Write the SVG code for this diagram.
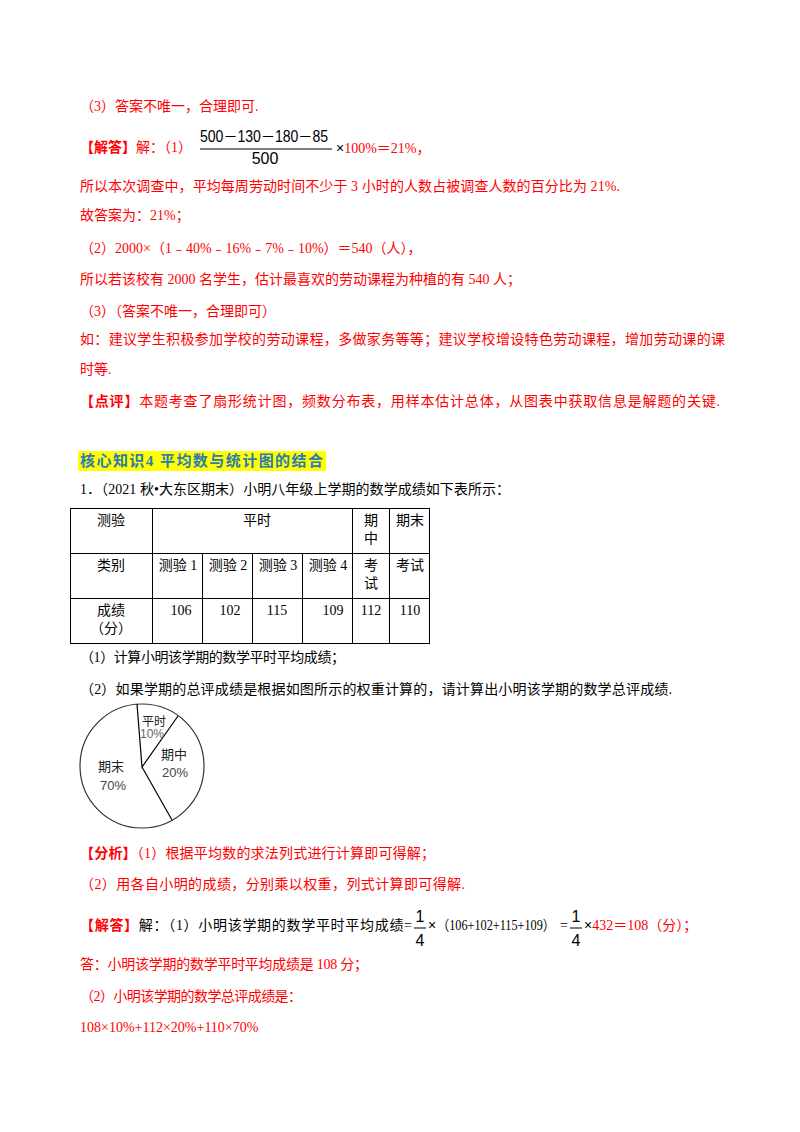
<svg xmlns="http://www.w3.org/2000/svg" width="800" height="1132" viewBox="0 0 800 1132">
<style>
text{font-family:"Liberation Serif","Noto Sans CJK SC",serif;font-size:14px;fill:#000}
.r{fill:#ff0000}
.b{font-weight:bold}
.s{font-family:"Liberation Sans","Noto Sans CJK SC",sans-serif}
.c{text-anchor:middle}
line,rect.t,path{stroke:#000;fill:none}
</style>
<rect width="800" height="1132" fill="#fff"/>
<g id="answer1">
<text class="r" x="80" y="111">（3）答案不唯一，合理即可.</text>
<text x="80" y="152"><tspan class="r b">【解答】</tspan><tspan class="r">解：（1）</tspan></text>
<text class="s" x="200" y="142" textLength="128" lengthAdjust="spacingAndGlyphs" style="font-size:16px">500－130－180－85</text>
<line x1="200" y1="149" x2="332" y2="149" stroke-width="1.2"/>
<text class="s" x="265" y="164" text-anchor="middle" style="font-size:16px">500</text>
<text x="336" y="153"><tspan class="s">×</tspan><tspan class="r">100%＝21%，</tspan></text>
<text class="r" x="80" y="191" textLength="540" lengthAdjust="spacing">所以本次调查中，平均每周劳动时间不少于 3 小时的人数占被调查人数的百分比为 21%.</text>
<text class="r" x="80" y="220">故答案为：21%；</text>
<text class="r" x="80" y="253">（2）2000×（1﹣40%﹣16%﹣7%﹣10%）＝540（人），</text>
<text class="r" x="80" y="284">所以若该校有 2000 名学生，估计最喜欢的劳动课程为种植的有 540 人；</text>
<text class="r" x="80" y="316">（3）（答案不唯一，合理即可）</text>
<text class="r" x="80" y="344" textLength="645" lengthAdjust="spacing">如：建议学生积极参加学校的劳动课程，多做家务等等；建议学校增设特色劳动课程，增加劳动课的课</text>
<text class="r" x="80" y="374">时等.</text>
<text x="80" y="406" textLength="640" lengthAdjust="spacing"><tspan class="r b">【点评】</tspan><tspan class="r">本题考查了扇形统计图，频数分布表，用样本估计总体，从图表中获取信息是解题的关键.</tspan></text>
</g>
<g id="heading">
<rect x="78" y="451" width="248" height="20" fill="#ffff00"/>
<text class="b" x="80" y="466" textLength="243" lengthAdjust="spacing" style="fill:#2a7ab8;font-size:15px">核心知识4  平均数与统计图的结合</text>
</g>
<text x="80" y="494" textLength="430" lengthAdjust="spacing">1．（2021 秋•大东区期末）小明八年级上学期的数学成绩如下表所示：</text>
<g id="table">
<rect class="t" x="70.5" y="508.5" width="359" height="135"/>
<line x1="152.5" y1="508" x2="152.5" y2="644"/>
<line x1="352.5" y1="508" x2="352.5" y2="644"/>
<line x1="389.5" y1="508" x2="389.5" y2="644"/>
<line x1="202.5" y1="553" x2="202.5" y2="644"/>
<line x1="252.5" y1="553" x2="252.5" y2="644"/>
<line x1="302.5" y1="553" x2="302.5" y2="644"/>
<line x1="70" y1="553.5" x2="430" y2="553.5"/>
<line x1="70" y1="598.5" x2="430" y2="598.5"/>
<text class="c" x="111" y="525">测验</text>
<text class="c" x="257" y="525">平时</text>
<text class="c" x="371" y="525">期</text>
<text class="c" x="371" y="543">中</text>
<text class="c" x="410" y="525">期末</text>
<text class="c" x="111" y="570">类别</text>
<text class="c" x="178" y="570">测验 1</text>
<text class="c" x="228" y="570">测验 2</text>
<text class="c" x="278" y="570">测验 3</text>
<text class="c" x="328" y="570">测验 4</text>
<text class="c" x="371" y="570">考</text>
<text class="c" x="371" y="588">试</text>
<text class="c" x="410" y="570">考试</text>
<text class="c" x="111" y="615">成绩</text>
<text class="c" x="111" y="633">（分）</text>
<text class="c" x="181" y="615">106</text>
<text class="c" x="230" y="615">102</text>
<text class="c" x="277" y="615">115</text>
<text class="c" x="333" y="615">109</text>
<text class="c" x="371" y="615">112</text>
<text class="c" x="410" y="615">110</text>
</g>
<text x="80" y="662" textLength="265" lengthAdjust="spacing">（1）计算小明该学期的数学平时平均成绩；</text>
<text x="80" y="694" textLength="592" lengthAdjust="spacing">（2）如果学期的总评成绩是根据如图所示的权重计算的，请计算出小明该学期的数学总评成绩.</text>
<g id="pie">
<circle cx="142" cy="766" r="62" fill="none" stroke="#333" stroke-width="1.2"/>
<path d="M137 704 L142 767 L178 716 M142 767 L172 820" stroke="#333" stroke-width="1.2"/>
<text class="s c" x="154" y="726" style="font-size:12px;fill:#222">平时</text>
<text class="s c" x="152" y="738" style="font-size:12px;fill:#666">10%</text>
<text class="s c" x="174" y="759" style="font-size:13px;fill:#222">期中</text>
<text class="s c" x="175" y="777" style="font-size:13px;fill:#444">20%</text>
<text class="s c" x="111" y="771" style="font-size:13px;fill:#222">期末</text>
<text class="s c" x="113" y="790" style="font-size:13px;fill:#444">70%</text>
</g>
<g id="analysis">
<text x="80" y="858" textLength="355" lengthAdjust="spacing"><tspan class="r b">【分析】</tspan><tspan class="r">（1）根据平均数的求法列式进行计算即可得解；</tspan></text>
<text class="r" x="80" y="889" textLength="385" lengthAdjust="spacing">（2）用各自小明的成绩，分别乘以权重，列式计算即可得解.</text>
<text x="80" y="930" textLength="332" lengthAdjust="spacing"><tspan class="r b">【解答】</tspan><tspan>解：（1）小明该学期的数学平时平均成绩=</tspan></text>
<text class="s c" x="420" y="922" style="font-size:16px">1</text>
<line x1="414" y1="928" x2="426" y2="928"/>
<text class="s c" x="420" y="946" style="font-size:16px">4</text>
<text x="428" y="930"><tspan class="s">×</tspan></text>
<text x="437" y="930" textLength="118" lengthAdjust="spacingAndGlyphs">（106+102+115+109）</text>
<text x="560" y="930">=</text>
<text class="s c" x="576" y="922" style="font-size:16px">1</text>
<line x1="570" y1="928" x2="582" y2="928"/>
<text class="s c" x="576" y="946" style="font-size:16px">4</text>
<text x="584" y="930"><tspan class="s">×</tspan><tspan class="r">432＝108（分）；</tspan></text>
<text class="r" x="80" y="969" textLength="288" lengthAdjust="spacing">答：小明该学期的数学平时平均成绩是 108 分；</text>
<text class="r" x="80" y="1001" textLength="222" lengthAdjust="spacing">（2）小明该学期的数学总评成绩是：</text>
<text class="r" x="80" y="1032">108×10%+112×20%+110×70%</text>
</g>
</svg>
